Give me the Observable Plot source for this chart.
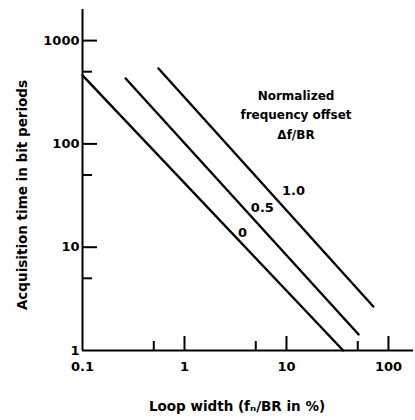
<!DOCTYPE html>
<html><head><meta charset="utf-8">
<script src="https://cdn.jsdelivr.net/npm/d3@7"></script>
<script src="https://cdn.jsdelivr.net/npm/@observablehq/plot@0.6"></script>
<style>body{margin:0;background:#fff} svg{display:block}</style>
</head><body><div id="chart"></div>
<script>
// Curves: normalized frequency offset Δf/BR
const offsets = ["0", "0.5", "1.0"];
const loopStart = [0.1, 0.265, 0.556];
const timeStart = [460, 430, 537];
const loopEnd = [36, 51, 71];
const timeEnd = [1, 1.43, 2.67];
// curve label anchors
const labelLoop = [3.7, 5.8, 11.7];
const labelTime = [13.9, 24.2, 35.4];
// ticks
const xLabelTicks = [0.1, 1, 10, 100];
const xMajorTicks = [1, 10, 100];
const xMinorTicks = [0.5, 5, 50];
const yLabelTicks = [1, 10, 100, 1000];
const yMajorTicks = [10, 100, 1000];
const yMinorTicks = [5, 50, 500];
const xTitle = "Loop width (fₙ/BR in %)";
const yTitle = "Acquisition time in bit periods";
const legendTitle = "Normalized\nfrequency offset\nΔf/BR";

const rows = [];
offsets.forEach((o, i) => {
  rows.push({offset: o, loop: loopStart[i], time: timeStart[i]});
  rows.push({offset: o, loop: loopEnd[i], time: timeEnd[i]});
});

const plot = Plot.plot({
  width: 415, height: 420,
  marginLeft: 82, marginRight: 2, marginTop: 9, marginBottom: 70,
  style: {fontFamily: "DejaVu Sans", fontWeight: "bold", fontSize: "13px", color: "#000", background: "#fff"},
  x: {type: "log", domain: [0.1, 176]},
  y: {type: "log", domain: [1, 2000]},
  marks: [
    Plot.ruleX([0.1], {strokeWidth: 2}),
    Plot.ruleY([1], {strokeWidth: 2}),
    Plot.axisX({ticks: xMajorTicks, tickSize: -14, tickFormat: () => "", strokeWidth: 2, label: null}),
    Plot.axisX({ticks: xMinorTicks, tickSize: -9, tickFormat: () => "", strokeWidth: 2, label: null}),
    Plot.axisX({ticks: xLabelTicks, tickSize: 0, tickPadding: 11, tickFormat: d => `${d}`, label: null, fontSize: 13}),
    Plot.axisY({ticks: yMajorTicks, tickSize: -15, tickFormat: () => "", strokeWidth: 2, label: null}),
    Plot.axisY({ticks: yMinorTicks, tickSize: -10, tickFormat: () => "", strokeWidth: 2, label: null}),
    Plot.axisY({ticks: yLabelTicks, tickSize: 0, tickPadding: 3, tickFormat: d => `${d}`, label: null, fontSize: 13}),
    Plot.line(rows, {x: "loop", y: "time", z: "offset", stroke: "#000", strokeWidth: 2.4}),
    Plot.text(offsets, {x: (d, i) => labelLoop[i], y: (d, i) => labelTime[i], text: d => d, fontSize: 13}),
    Plot.text([legendTitle], {frameAnchor: "top", text: d => d, dx: 48, dy: 77, lineAnchor: "top", lineHeight: 1.6, fontSize: 12}),
    Plot.text([yTitle], {frameAnchor: "left", textAnchor: "middle", text: d => d, rotate: -90, dx: -60, dy: 15, fontSize: 13.5}),
    Plot.text([xTitle], {frameAnchor: "bottom", text: d => d, dx: -11, dy: 60, fontSize: 13.5})
  ]
});
document.getElementById("chart").appendChild(plot);
</script>
</body></html>
